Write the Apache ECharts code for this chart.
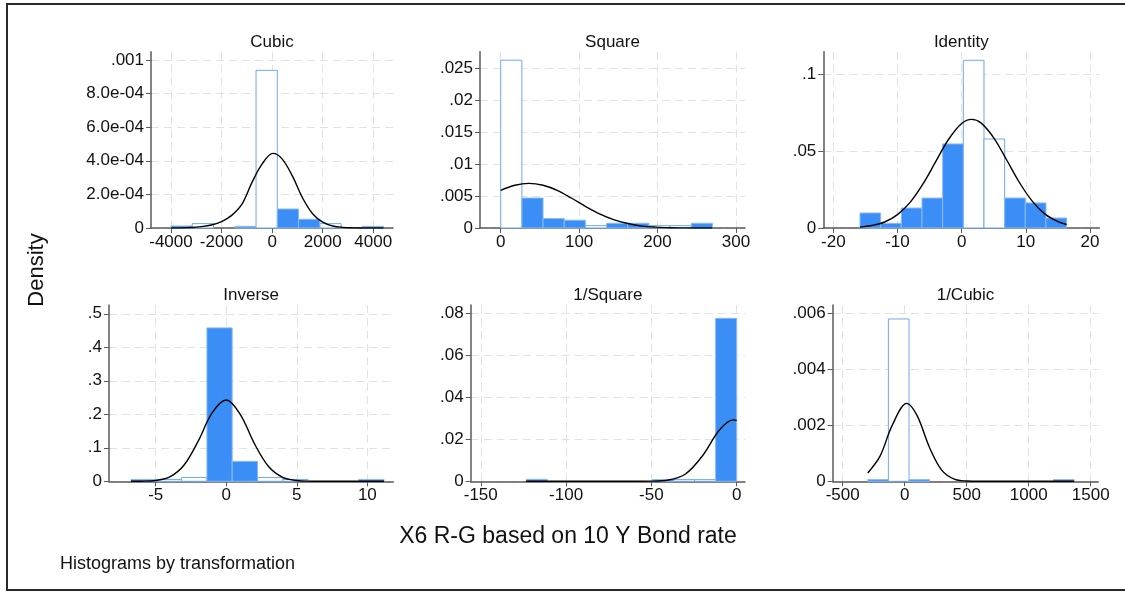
<!DOCTYPE html>
<html><head><meta charset="utf-8">
<script src="https://cdn.jsdelivr.net/npm/echarts@6/dist/echarts.min.js"></script>
<style>html,body{margin:0;padding:0;background:#fff}#c{width:1125px;height:592px}</style>
</head><body><div id="c"></div>
<script>
// ---------------- DATA ----------------
const panelTitles = ['Cubic', 'Square', 'Identity', 'Inverse', '1/Square', '1/Cubic'];
const xAxisTitle = 'X6 R-G based on 10 Y Bond rate';
const yAxisTitle = 'Density';
const footNote = 'Histograms by transformation';

// Cubic
const cubicEdges = [-4000, -3159, -2318, -1477, -636, 205, 1046, 1887, 2728, 3569, 4410];
const cubicDensity = [0.000012, 0.000026, 0, 0.000010, 0.000938, 0.000113, 0.000052, 0.000026, 0, 0.000010];
const cubicHollow = [0, 1, 0, 0, 1, 0, 0, 1, 0, 0];
const cubicCurveX = [-4000, -3200, -2800, -2400, -2000, -1600, -1200, -800, -400, 30, 400, 800, 1200, 1600, 2000, 2400, 2800, 3200, 3600, 4410];
const cubicCurveY = [0, 0.000003, 0.000008, 0.000018, 0.000038, 0.000075, 0.00014, 0.00027, 0.00038, 0.000444, 0.00041, 0.00031, 0.00018, 0.000085, 0.000035, 0.000012, 0.000004, 0.000001, 0, 0];
const cubicXTicks = [-4000, -2000, 0, 2000, 4000];
const cubicXLabels = ['-4000', '-2000', '0', '2000', '4000'];
const cubicYTicks = [0, 0.0002, 0.0004, 0.0006, 0.0008, 0.001];
const cubicYLabels = ['0', '2.0e-04', '4.0e-04', '6.0e-04', '8.0e-04', '.001'];

// Square
const squareEdges = [0, 27, 54, 81, 108, 135, 162, 189, 216, 243, 270];
const squareDensity = [0.0263, 0.0047, 0.00148, 0.00122, 0.00037, 0.00074, 0.00074, 0.00037, 0.00037, 0.00074];
const squareHollow = [1, 0, 0, 0, 1, 0, 0, 1, 1, 0];
const squareCurveX = [0, 18, 36, 54, 72, 90, 108, 126, 144, 162, 180, 198, 216, 234, 270];
const squareCurveY = [0.0059, 0.0067, 0.0070, 0.0067, 0.0059, 0.0047, 0.0034, 0.0022, 0.0013, 0.0007, 0.0003, 0.00013, 0.00005, 0.00002, 0];
const squareXTicks = [0, 100, 200, 300];
const squareXLabels = ['0', '100', '200', '300'];
const squareYTicks = [0, 0.005, 0.01, 0.015, 0.02, 0.025];
const squareYLabels = ['0', '.005', '.01', '.015', '.02', '.025'];

// Identity
const identityEdges = [-15.84, -12.62, -9.40, -6.18, -2.96, 0.26, 3.48, 6.70, 9.92, 13.14, 16.36];
const identityDensity = [0.00976, 0.00304, 0.0130, 0.0195, 0.0547, 0.1091, 0.0579, 0.0195, 0.0163, 0.0065];
const identityHollow = [0, 0, 0, 0, 0, 1, 1, 0, 0, 0];
const identityCurveX = [-15.84, -14, -12, -10, -8, -6, -4, -2, 0, 1.56, 3, 5, 7, 9, 11, 13, 15, 16.36];
const identityCurveY = [0.0006, 0.0016, 0.0039, 0.0087, 0.0168, 0.0288, 0.0435, 0.0579, 0.068, 0.0707, 0.0684, 0.0587, 0.0444, 0.0296, 0.0175, 0.009, 0.0042, 0.0023];
const identityXTicks = [-20, -10, 0, 10, 20];
const identityXLabels = ['-20', '-10', '0', '10', '20'];
const identityYTicks = [0, 0.05, 0.1];
const identityYLabels = ['0', '.05', '.1'];

// Inverse
const inverseEdges = [-6.75, -4.96, -3.16, -1.37, 0.42, 2.22, 4.01, 5.80, 7.59, 9.39, 11.18];
const inverseDensity = [0.0056, 0.0056, 0.0115, 0.458, 0.0596, 0.0112, 0.0056, 0, 0, 0.0056];
const inverseHollow = [0, 1, 1, 0, 0, 1, 1, 0, 0, 0];
const inverseCurveX = [-6.75, -6, -5, -4, -3, -2, -1, 0, 1, 2, 3, 4, 5, 6, 7, 8, 11.18];
const inverseCurveY = [0.0001, 0.0003, 0.0025, 0.0132, 0.048, 0.119, 0.204, 0.2425, 0.199, 0.112, 0.044, 0.0117, 0.0023, 0.0003, 0, 0, 0];
const inverseXTicks = [-5, 0, 5, 10];
const inverseXLabels = ['-5', '0', '5', '10'];
const inverseYTicks = [0, 0.1, 0.2, 0.3, 0.4, 0.5];
const inverseYLabels = ['0', '.1', '.2', '.3', '.4', '.5'];

// 1/Square
const invSquareEdges = [-123.4, -111.06, -98.72, -86.38, -74.04, -61.7, -49.36, -37.02, -24.68, -12.34, 0];
const invSquareDensity = [0.00095, 0, 0, 0, 0, 0, 0.00081, 0.00081, 0.00081, 0.0778];
const invSquareHollow = [0, 0, 0, 0, 0, 0, 0, 1, 1, 0];
const invSquareCurveX = [-123.4, -80, -60, -50, -40, -30, -20, -10, -2, 0];
const invSquareCurveY = [0, 0, 0.00001, 0.00006, 0.0006, 0.0035, 0.0122, 0.0246, 0.0293, 0.029];
const invSquareXTicks = [-150, -100, -50, 0];
const invSquareXLabels = ['-150', '-100', '-50', '0'];
const invSquareYTicks = [0, 0.02, 0.04, 0.06, 0.08];
const invSquareYLabels = ['0', '.02', '.04', '.06', '.08'];

// 1/Cubic
const invCubicEdges = [-298, -131.6, 34.8, 201.2, 367.6, 534, 700.4, 866.8, 1033.2, 1199.6, 1366];
const invCubicDensity = [0.00006, 0.00581, 0.00006, 0, 0, 0, 0, 0, 0, 0.00006];
const invCubicHollow = [0, 1, 0, 0, 0, 0, 0, 0, 0, 0];
const invCubicCurveX = [-298, -200, -100, 16, 100, 200, 300, 400, 500, 600, 1366];
const invCubicCurveY = [0.0003, 0.00089, 0.00201, 0.00279, 0.00235, 0.00121, 0.00039, 0.000075, 0.00001, 0, 0];
const invCubicXTicks = [-500, 0, 500, 1000, 1500];
const invCubicXLabels = ['-500', '0', '500', '1000', '1500'];
const invCubicYTicks = [0, 0.002, 0.004, 0.006];
const invCubicYLabels = ['0', '.002', '.004', '.006'];

// ---------------- LAYOUT / STYLE ----------------
const panels = [
  {edges: cubicEdges, dens: cubicDensity, hol: cubicHollow, cx: cubicCurveX, cy: cubicCurveY, xt: cubicXTicks, xl: cubicXLabels, yt: cubicYTicks, yl: cubicYLabels},
  {edges: squareEdges, dens: squareDensity, hol: squareHollow, cx: squareCurveX, cy: squareCurveY, xt: squareXTicks, xl: squareXLabels, yt: squareYTicks, yl: squareYLabels},
  {edges: identityEdges, dens: identityDensity, hol: identityHollow, cx: identityCurveX, cy: identityCurveY, xt: identityXTicks, xl: identityXLabels, yt: identityYTicks, yl: identityYLabels},
  {edges: inverseEdges, dens: inverseDensity, hol: inverseHollow, cx: inverseCurveX, cy: inverseCurveY, xt: inverseXTicks, xl: inverseXLabels, yt: inverseYTicks, yl: inverseYLabels},
  {edges: invSquareEdges, dens: invSquareDensity, hol: invSquareHollow, cx: invSquareCurveX, cy: invSquareCurveY, xt: invSquareXTicks, xl: invSquareXLabels, yt: invSquareYTicks, yl: invSquareYLabels},
  {edges: invCubicEdges, dens: invCubicDensity, hol: invCubicHollow, cx: invCubicCurveX, cy: invCubicCurveY, xt: invCubicXTicks, xl: invCubicXLabels, yt: invCubicYTicks, yl: invCubicYLabels}
];
const layout = [
  {left: 151, top: 51.7, width: 242, height: 176.3, xMin: -4790, xMax: 4780, yMax: 0.001049, titleY: 42},
  {left: 480, top: 51.7, width: 265, height: 176.3, xMin: -26.4, xMax: 311.5, yMax: 0.02763, titleY: 42},
  {left: 823.3, top: 51.7, width: 276, height: 176.3, xMin: -21.56, xMax: 21.45, yMax: 0.1147, titleY: 42},
  {left: 109, top: 305, width: 284.3, height: 176.3, xMin: -8.31, xMax: 11.84, yMax: 0.5263, titleY: 295},
  {left: 470.7, top: 305, width: 274.3, height: 176.3, xMin: -155.9, xMax: 4.88, yMax: 0.08416, titleY: 295},
  {left: 832.7, top: 305, width: 265.6, height: 176.3, xMin: -580.6, xMax: 1561, yMax: 0.00631, titleY: 295}
];
const FONT = "'Liberation Sans', Arial, sans-serif";
const AXIS_COLOR = '#5a5a5a';
const GRID_COLOR = '#e2e2e2';
const BAR_FILL = '#3a8ef6';
const BAR_EDGE = '#8cbbf3';
const HOLLOW_EDGE = '#6ea8f2';

function labelFor(ticks, labels) {
  return function (v) {
    for (let i = 0; i < ticks.length; i++) {
      if (Math.abs(ticks[i] - v) <= Math.abs(ticks[ticks.length - 1] - ticks[0]) * 1e-6 + 1e-12) return labels[i];
    }
    return '';
  };
}

const grids = [], xAxes = [], yAxes = [], series = [], graphics = [];
panels.forEach(function (p, i) {
  const L = layout[i];
  grids.push({left: L.left, top: L.top, width: L.width, height: L.height, containLabel: false, outerBoundsMode: 'none'});
  xAxes.push({
    type: 'value', gridIndex: i, min: L.xMin, max: L.xMax,
    axisLine: {show: true, onZero: false, lineStyle: {color: AXIS_COLOR, width: 1.5}},
    axisTick: {show: true, length: 5, lineStyle: {color: AXIS_COLOR, width: 1}, customValues: p.xt},
    axisLabel: {show: true, customValues: p.xt, formatter: labelFor(p.xt, p.xl), color: '#111', fontSize: 17, fontFamily: FONT, margin: 6},
    splitLine: {show: true, lineStyle: {color: GRID_COLOR, width: 1, type: [8, 5]}}
  });
  yAxes.push({
    type: 'value', gridIndex: i, min: 0, max: L.yMax,
    axisLine: {show: true, onZero: false, lineStyle: {color: AXIS_COLOR, width: 1.5}},
    axisTick: {show: true, length: 5, lineStyle: {color: AXIS_COLOR, width: 1}, customValues: p.yt},
    axisLabel: {show: true, customValues: p.yt, formatter: labelFor(p.yt, p.yl), color: '#111', fontSize: 17, fontFamily: FONT, margin: 7},
    splitLine: {show: true, lineStyle: {color: GRID_COLOR, width: 1, type: [8, 5]}}
  });
  const barData = p.dens.map(function (d, k) { return [p.edges[k], p.edges[k + 1], d, p.hol[k]]; });
  series.push({
    type: 'custom', xAxisIndex: i, yAxisIndex: i, silent: true,
    data: barData, encode: {x: [0, 1], y: 2},
    renderItem: function (params, api) {
      const x0 = api.value(0), x1 = api.value(1), h = api.value(2), hol = api.value(3);
      if (!(h > 0)) return null;
      const a = api.coord([x0, h]), b = api.coord([x1, 0]);
      return {
        type: 'rect',
        shape: {x: a[0], y: a[1], width: b[0] - a[0], height: b[1] - a[1]},
        style: {fill: hol ? '#ffffff' : BAR_FILL, stroke: hol ? HOLLOW_EDGE : BAR_EDGE, lineWidth: 1}
      };
    },
    z: 2
  });
  series.push({
    type: 'line', xAxisIndex: i, yAxisIndex: i, silent: true,
    data: p.cx.map(function (x, k) { return [x, p.cy[k]]; }),
    smooth: 0.35, showSymbol: false, symbol: 'none',
    lineStyle: {color: '#000', width: 1.4}, z: 3
  });
  graphics.push({
    type: 'text', x: L.left + L.width / 2, y: L.titleY,
    style: {text: panelTitles[i], fontSize: 17, fontFamily: FONT, fill: '#111', align: 'center', verticalAlign: 'middle'}
  });
});

graphics.push({type: 'text', x: 568, y: 537, style: {text: xAxisTitle, fontSize: 23, fontFamily: FONT, fill: '#111', align: 'center', verticalAlign: 'middle'}});
graphics.push({type: 'text', x: 37, y: 270, rotation: Math.PI / 2, style: {text: yAxisTitle, fontSize: 22, fontFamily: FONT, fill: '#111', align: 'center', verticalAlign: 'middle'}});
graphics.push({type: 'text', x: 60, y: 564, style: {text: footNote, fontSize: 18, fontFamily: FONT, fill: '#111', align: 'left', verticalAlign: 'middle'}});
// outer frame
graphics.push({type: 'polyline', shape: {points: [[1125, 4], [7, 4], [7, 590], [1125, 590]]}, style: {stroke: '#2a2a2a', lineWidth: 2, fill: null}});

const chart = echarts.init(document.getElementById('c'), null, {renderer: 'canvas'});
chart.setOption({
  animation: false,
  backgroundColor: '#ffffff',
  grid: grids, xAxis: xAxes, yAxis: yAxes, series: series, graphic: graphics
});
</script></body></html>
